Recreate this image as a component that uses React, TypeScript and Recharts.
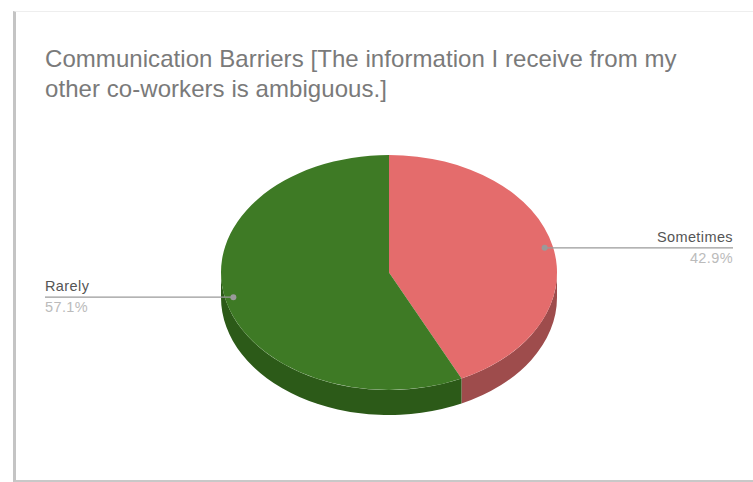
import React from 'react';
import {PieChart, Pie, Sector} from 'recharts';

const categories = ['Sometimes', 'Rarely'];
const shares = [42.9, 57.1];
const topColors = ['#E46C6C', '#3E7A25'];
const wallColors = ['#9E4C4C', '#2C5A18'];

const titleLines = [
    'Communication Barriers [The information I receive from my',
    'other co-workers is ambiguous.]',
];

const data = categories.map((name, i) => ({
    name,
    value: shares[i],
    fill: topColors[i],
    wall: wallColors[i],
}));

const WIDTH = 753;
const HEIGHT = 482;
const CX = 389;
const CY = 272.5;
const RADIUS = 168;
const SQUASH = 0.6994;
const DEPTH = 25;
const LEFT_END = 45;
const RIGHT_END = 733;

const RAD = Math.PI / 180;

const TopSlice = (props: any) => (
    <g transform={`translate(${props.cx} ${props.cy}) scale(1 ${SQUASH}) translate(${-props.cx} ${-props.cy})`}>
        <Sector
            cx={props.cx}
            cy={props.cy}
            innerRadius={0}
            outerRadius={props.outerRadius}
            startAngle={props.startAngle}
            endAngle={props.endAngle}
            fill={props.fill}
            stroke="none"
        />
    </g>
);

// the side of the disc, only the part of each slice that faces the viewer
const WallSlice = (props: any) => {
    const {cx, cy, outerRadius, startAngle, endAngle, payload} = props;
    const from = Math.min(startAngle, 0);
    const to = Math.max(endAngle, -180);
    if (from <= to) return null;
    const rx = outerRadius;
    const ry = outerRadius * SQUASH;
    const x1 = cx + rx * Math.cos(from * RAD);
    const y1 = cy - ry * Math.sin(from * RAD);
    const x2 = cx + rx * Math.cos(to * RAD);
    const y2 = cy - ry * Math.sin(to * RAD);
    const d = `M${x1} ${y1} A${rx} ${ry} 0 0 1 ${x2} ${y2} L${x2} ${y2 + DEPTH} A${rx} ${ry} 0 0 0 ${x1} ${y1 + DEPTH} Z`;
    return <path d={d} fill={payload.wall}/>;
};

const renderLabel = (props: any) => {
    const {cx, cy, outerRadius, midAngle, percent, name} = props;
    const px = cx + outerRadius * 0.95 * Math.cos(midAngle * RAD);
    const py = cy - outerRadius * SQUASH * 0.95 * Math.sin(midAngle * RAD);
    const onRight = px > cx;
    const end = onRight ? RIGHT_END : LEFT_END;
    const anchor = onRight ? 'end' : 'start';
    return (
        <g fontFamily="'Liberation Sans', Arial, sans-serif" fontSize={14.5} letterSpacing={0.4}>
            <line x1={px} y1={py} x2={end} y2={py} stroke="#9a9a9a" strokeWidth={1.3}/>
            <circle cx={px} cy={py} r={3} fill="#9a9a9a"/>
            <text x={end} y={py - 6} textAnchor={anchor} fill="#555555">{name}</text>
            <text x={end} y={py + 15} textAnchor={anchor} fill="#bbbbbb">{(percent * 100).toFixed(1)}%</text>
        </g>
    );
};

const App = () => {
    return (
        <div style={{position: 'absolute', left: 0, top: 0, width: WIDTH, height: HEIGHT, overflow: 'hidden', background: '#fff'}}>
            <div style={{
                position: 'absolute',
                left: 13,
                top: 11,
                width: WIDTH,
                height: 471,
                borderLeft: '3px solid #c4c4c4',
                borderTop: '1px solid #eeeeee',
                borderBottom: '2px solid #c8c8c8',
                boxSizing: 'border-box',
                filter: 'blur(0.6px)',
            }}/>
            <div style={{
                position: 'absolute',
                left: 45,
                top: 44,
                fontFamily: "'Liberation Sans', Arial, sans-serif",
                fontSize: 24,
                lineHeight: '30px',
                letterSpacing: 0.06,
                color: '#7a7a7a',
                whiteSpace: 'nowrap',
            }}>
                {titleLines.map((line) => <div key={line}>{line}</div>)}
            </div>
            <div style={{position: 'absolute', left: 0, top: 0}}>
                <PieChart width={WIDTH} height={HEIGHT} margin={{top: 0, right: 0, bottom: 0, left: 0}}>
                    <Pie
                        data={data}
                        dataKey="value"
                        nameKey="name"
                        cx={CX}
                        cy={CY + DEPTH}
                        outerRadius={RADIUS}
                        startAngle={90}
                        endAngle={-270}
                        stroke="none"
                        shape={(p: any) => <WallSlice {...p} cy={CY}/>}
                        isAnimationActive={false}
                    />
                    <Pie
                        data={data}
                        dataKey="value"
                        nameKey="name"
                        cx={CX}
                        cy={CY}
                        outerRadius={RADIUS}
                        startAngle={90}
                        endAngle={-270}
                        stroke="none"
                        shape={TopSlice}
                        label={renderLabel}
                        labelLine={false}
                        isAnimationActive={false}
                    />
                </PieChart>
            </div>
        </div>
    );
};

export default App;
